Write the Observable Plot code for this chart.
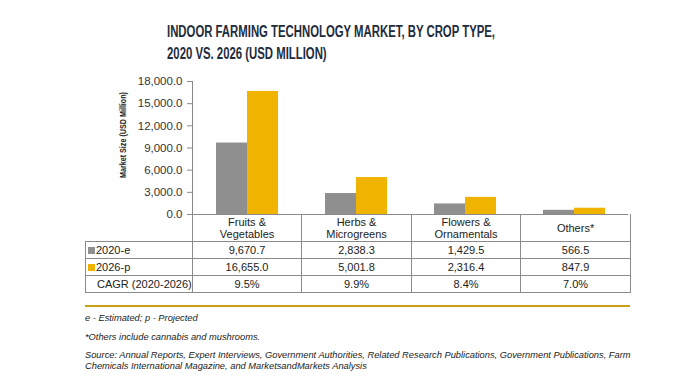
<!DOCTYPE html>
<html>
<head>
<meta charset="utf-8">
<script src="https://cdn.jsdelivr.net/npm/d3@7"></script>
<script src="https://cdn.jsdelivr.net/npm/@observablehq/plot@0.6"></script>
<style>
  html, body { margin: 0; padding: 0; background: #fff; }
  #wrap { position: relative; width: 694px; height: 390px; overflow: hidden; font-family: "Liberation Sans", Arial, sans-serif; color: #222; }
  .title { position: absolute; left: 167px; font-family: "Liberation Sans", Arial, sans-serif; font-weight: bold; font-size: 16px; color: #1e2c3c; white-space: nowrap; line-height: 1; transform-origin: 0 0; }
  #chart { position: absolute; left: 0; top: 0; }
  #ylabel { position: absolute; left: 123px; top: 135px; font-family: "Liberation Sans", Arial, sans-serif; font-weight: bold; font-size: 9px; color: #222; white-space: nowrap; line-height: 1; }
  table { position: absolute; left: 85px; top: 214px; border-collapse: collapse; font-size: 11px; color: #222; table-layout: fixed; }
  td { border: 1px solid #8a8a8a; text-align: center; padding: 0; line-height: 12px; white-space: nowrap; }
  tr.head td { height: 27px; border-top: none; }
  tr.head td.blank { border-left: none; border-top: none; }
  tr.row td { height: 16px; }
  td.lab { text-align: left; padding-left: 2px; }
  .sw { display: inline-block; width: 7px; height: 7px; margin-right: 1px; vertical-align: 0px; }
  #goldline { position: absolute; left: 85px; top: 305px; width: 545px; height: 2px; background: #c9a010; }
  .note { position: absolute; left: 85px; font-style: italic; font-size: 9.3px; color: #222; white-space: nowrap; line-height: 11px; }
</style>
</head>
<body>
<div id="wrap"></div>
<script>
const categories = ["Fruits & Vegetables", "Herbs & Microgreens", "Flowers & Ornamentals", "Others*"];
const headerLines = [["Fruits &", "Vegetables"], ["Herbs &", "Microgreens"], ["Flowers &", "Ornamentals"], ["Others*"]];
const series = ["2020-e", "2026-p"];
const values2020 = [9670.7, 2838.3, 1429.5, 566.5];
const values2026 = [16655.0, 5001.8, 2316.4, 847.9];
const cagr = ["9.5%", "9.9%", "8.4%", "7.0%"];
const yTicks = [0, 3000, 6000, 9000, 12000, 15000, 18000];
const colors = ["#8f8f8f", "#f0b400"];
const titleLines = ["INDOOR FARMING TECHNOLOGY MARKET, BY CROP TYPE,", "2020 VS. 2026 (USD MILLION)"];
const yLabel = "Market Size (USD Million)";
const notes = ["e - Estimated; p - Projected", "*Others include cannabis and mushrooms.",
  "Source: Annual Reports, Expert Interviews, Government Authorities, Related Research Publications, Government Publications, Farm",
  "Chemicals International Magazine, and MarketsandMarkets Analysis"];

const data = [];
categories.forEach((c, i) => {
  data.push({category: c, series: series[0], value: values2020[i]});
  data.push({category: c, series: series[1], value: values2026[i]});
});

const fmt = d3.format(",.1f");
const wrap = document.getElementById("wrap");

const chart = Plot.plot({
  width: 694,
  height: 222,
  marginTop: 81,
  marginBottom: 8,
  marginLeft: 191,
  marginRight: 65,
  style: {fontFamily: "'Liberation Sans', Arial, sans-serif", color: "#333", background: "transparent"},
  fx: {domain: categories, axis: null, paddingInner: 0, paddingOuter: 0},
  x: {domain: series, axis: null, paddingInner: 0, paddingOuter: 0.75},
  y: {domain: [0, 18000], axis: null},
  color: {domain: series, range: colors},
  marks: [
    Plot.barY(data, {fx: "category", x: "series", y: "value", fill: "series"}),
    Plot.axisY({ticks: yTicks, tickFormat: fmt, tickSize: 5, tickPadding: 5, fontSize: 11.5, stroke: "#888", label: null, fill: "#333"}),
    Plot.frame({anchor: "left", facetAnchor: "left", stroke: "#888"}),
    Plot.ruleY([0], {stroke: "#8a8a8a"})
  ]
});
chart.id = "chart";
wrap.appendChild(chart);

// title, compressed horizontally to the condensed width of the original
const titleEls = titleLines.map((t, i) => {
  const d = document.createElement("div");
  d.className = "title";
  d.style.top = (24 + i * 22) + "px";
  d.textContent = t;
  wrap.appendChild(d);
  return d;
});
const tScale = 328 / titleEls[0].getBoundingClientRect().width;
titleEls.forEach(d => d.style.transform = `scaleX(${tScale})`);

const yl = document.createElement("div");
yl.id = "ylabel";
yl.textContent = yLabel;
wrap.appendChild(yl);
const ylScale = 86 / yl.getBoundingClientRect().width;
yl.style.transform = `translate(-50%, -50%) rotate(-90deg) scaleX(${ylScale})`;

// table
const table = document.createElement("table");
const cg = document.createElement("colgroup");
[106, 109.5, 109.5, 109.5, 109.5].forEach(w => { const c = document.createElement("col"); c.style.width = w + "px"; cg.appendChild(c); });
table.appendChild(cg);
const head = document.createElement("tr");
head.className = "head";
const blank = document.createElement("td"); blank.className = "blank"; head.appendChild(blank);
headerLines.forEach(lines => { const td = document.createElement("td"); td.innerHTML = lines.map(l => l.replace("&", "&amp;")).join("<br>"); head.appendChild(td); });
table.appendChild(head);
[[series[0], values2020.map(fmt), colors[0]], [series[1], values2026.map(fmt), colors[1]], ["CAGR (2020-2026)", cagr, null]].forEach(([lab, vals, col]) => {
  const tr = document.createElement("tr"); tr.className = "row";
  const td = document.createElement("td"); td.className = "lab";
  if (col) { const s = document.createElement("span"); s.className = "sw"; s.style.background = col; td.appendChild(s); }
  else { td.style.paddingLeft = "11px"; }
  td.appendChild(document.createTextNode(lab));
  tr.appendChild(td);
  vals.forEach(v => { const c = document.createElement("td"); c.textContent = v; tr.appendChild(c); });
  table.appendChild(tr);
});
wrap.appendChild(table);

const gl = document.createElement("div"); gl.id = "goldline"; wrap.appendChild(gl);

[313, 332, 350, 361].forEach((top, i) => {
  const d = document.createElement("div"); d.className = "note"; d.style.top = top + "px"; d.textContent = notes[i]; wrap.appendChild(d);
});
</script>
</body>
</html>
